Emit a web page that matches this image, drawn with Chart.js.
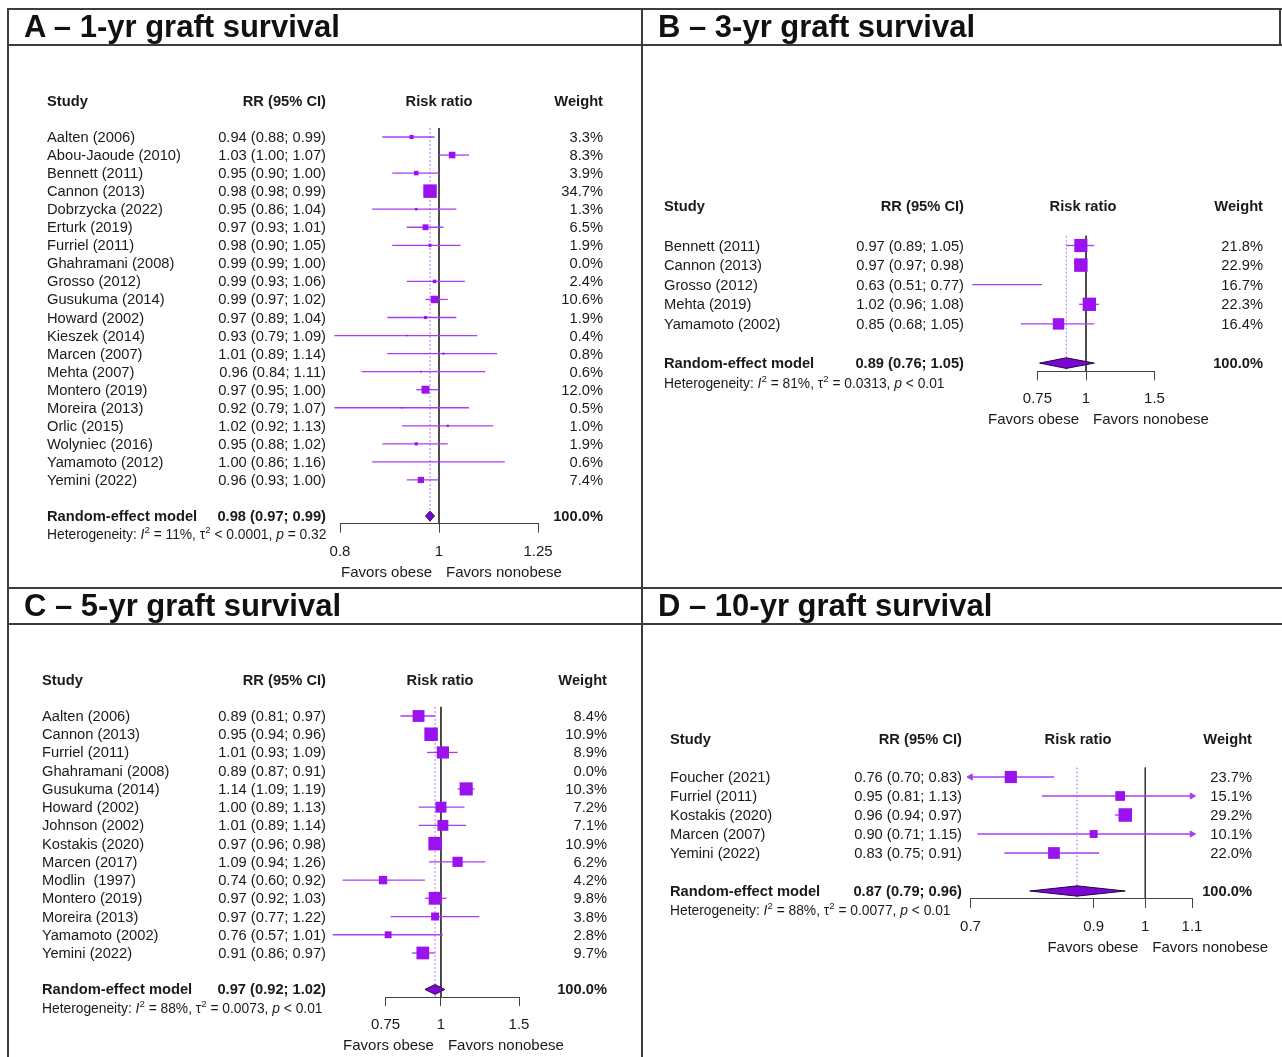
<!DOCTYPE html>
<html>
<head>
<meta charset="utf-8">
<title>Graft survival forest plots</title>
<script src="https://cdn.jsdelivr.net/npm/chart.js@4.4.1/dist/chart.umd.min.js"></script>
<style>
  html, body { margin: 0; padding: 0; background: #fff; }
  body { width: 1282px; height: 1057px; position: relative; overflow: hidden;
         font-family: 'Liberation Sans', Arial, Helvetica, sans-serif; color: #1a1a1a; }
  .panel { position: absolute; }
  .panel canvas { position: absolute; left: 0; top: 0; }
  .title { position: absolute; left: 16px; top: 0; height: 36px; line-height: 36px;
           font-size: 31px; font-weight: bold; color: #111; white-space: nowrap; }
  .lbl { position: absolute; white-space: pre; font-size: 14.7px; line-height: 17px; }
  .lbl.b { font-weight: bold; }
  .lbl.l { transform: translate(0, -50%); }
  .lbl.r { transform: translate(-100%, -50%); }
  .lbl.c { transform: translate(-50%, -50%); }
  .lbl.het { font-size: 13.8px; }
  .lbl.fav { font-size: 15px; }
  .het sup { font-size: 0.7em; vertical-align: 0.6em; line-height: 0; }
  .rule { position: absolute; background: #3c3c3c; }
</style>
</head>
<body>
<script>
// A - 1 year
const studiesA = ['Aalten (2006)', 'Abou-Jaoude (2010)', 'Bennett (2011)', 'Cannon (2013)', 'Dobrzycka (2022)',
  'Erturk (2019)', 'Furriel (2011)', 'Ghahramani (2008)', 'Grosso (2012)', 'Gusukuma (2014)', 'Howard (2002)',
  'Kieszek (2014)', 'Marcen (2007)', 'Mehta (2007)', 'Montero (2019)', 'Moreira (2013)', 'Orlic (2015)',
  'Wolyniec (2016)', 'Yamamoto (2012)', 'Yemini (2022)'];
const rrA = [0.94, 1.03, 0.95, 0.98, 0.95, 0.97, 0.98, 0.99, 0.99, 0.99, 0.97, 0.93, 1.01, 0.96, 0.97, 0.92, 1.02, 0.95, 1.00, 0.96];
const loA = [0.88, 1.00, 0.90, 0.98, 0.86, 0.93, 0.90, 0.99, 0.93, 0.97, 0.89, 0.79, 0.89, 0.84, 0.95, 0.79, 0.92, 0.88, 0.86, 0.93];
const hiA = [0.99, 1.07, 1.00, 0.99, 1.04, 1.01, 1.05, 1.00, 1.06, 1.02, 1.04, 1.09, 1.14, 1.11, 1.00, 1.07, 1.13, 1.02, 1.16, 1.00];
const weightA = [3.3, 8.3, 3.9, 34.7, 1.3, 6.5, 1.9, 0.0, 2.4, 10.6, 1.9, 0.4, 0.8, 0.6, 12.0, 0.5, 1.0, 1.9, 0.6, 7.4];
const pooledA = [0.98, 0.97, 0.99];
const hetA = ['11%', '< 0.0001', '= 0.32'];
const ticksA = [0.8, 1, 1.25];

// B - 3 year
const studiesB = ['Bennett (2011)', 'Cannon (2013)', 'Grosso (2012)', 'Mehta (2019)', 'Yamamoto (2002)'];
const rrB = [0.97, 0.97, 0.63, 1.02, 0.85];
const loB = [0.89, 0.97, 0.51, 0.96, 0.68];
const hiB = [1.05, 0.98, 0.77, 1.08, 1.05];
const weightB = [21.8, 22.9, 16.7, 22.3, 16.4];
const pooledB = [0.89, 0.76, 1.05];
const hetB = ['81%', '= 0.0313', '< 0.01'];
const ticksB = [0.75, 1, 1.5];

// C - 5 year
const studiesC = ['Aalten (2006)', 'Cannon (2013)', 'Furriel (2011)', 'Ghahramani (2008)', 'Gusukuma (2014)',
  'Howard (2002)', 'Johnson (2002)', 'Kostakis (2020)', 'Marcen (2017)', 'Modlin  (1997)', 'Montero (2019)',
  'Moreira (2013)', 'Yamamoto (2002)', 'Yemini (2022)'];
const rrC = [0.89, 0.95, 1.01, 0.89, 1.14, 1.00, 1.01, 0.97, 1.09, 0.74, 0.97, 0.97, 0.76, 0.91];
const loC = [0.81, 0.94, 0.93, 0.87, 1.09, 0.89, 0.89, 0.96, 0.94, 0.60, 0.92, 0.77, 0.57, 0.86];
const hiC = [0.97, 0.96, 1.09, 0.91, 1.19, 1.13, 1.14, 0.98, 1.26, 0.92, 1.03, 1.22, 1.01, 0.97];
const weightC = [8.4, 10.9, 8.9, 0.0, 10.3, 7.2, 7.1, 10.9, 6.2, 4.2, 9.8, 3.8, 2.8, 9.7];
const pooledC = [0.97, 0.92, 1.02];
const hetC = ['88%', '= 0.0073', '< 0.01'];
const ticksC = [0.75, 1, 1.5];

// D - 10 year
const studiesD = ['Foucher (2021)', 'Furriel (2011)', 'Kostakis (2020)', 'Marcen (2007)', 'Yemini (2022)'];
const rrD = [0.76, 0.95, 0.96, 0.90, 0.83];
const loD = [0.70, 0.81, 0.94, 0.71, 0.75];
const hiD = [0.83, 1.13, 0.97, 1.15, 0.91];
const weightD = [23.7, 15.1, 29.2, 10.1, 22.0];
const pooledD = [0.87, 0.79, 0.96];
const hetD = ['88%', '= 0.0077', '< 0.01'];
const ticksD = [0.7, 0.9, 1, 1.1];

const FONT = "'Liberation Sans', Arial, Helvetica, sans-serif";
const SQUARE = '#9a12ee';
const CI_LINE = '#a83cf2';
const DOTTED = '#b779f5';
const DIAMOND = '#7c06d4';
const AXIS = '#444';

// page geometry of each panel (page pixels)
const panels = [
  { title: 'A \u2013 1-yr graft survival', box: [8, 9, 634, 579],
    studies: studiesA, rr: rrA, lo: loA, hi: hiA, weight: weightA, pooled: pooledA, het: hetA, ticks: ticksA, arrows: false,
    pos: { plotLeft: 340, plotRight: 538, row0: 137, rowStep: 18.05, studyX: 47, rrRight: 326, wRight: 603, riskX: 439 } },
  { title: 'B \u2013 3-yr graft survival', box: [642, 9, 640, 579],
    studies: studiesB, rr: rrB, lo: loB, hi: hiB, weight: weightB, pooled: pooledB, het: hetB, ticks: ticksB, arrows: false,
    pos: { plotLeft: 1037.4, plotRight: 1154.5, row0: 245.5, rowStep: 19.6, studyX: 664, rrRight: 964, wRight: 1263, riskX: 1083 } },
  { title: 'C \u2013 5-yr graft survival', box: [8, 588, 634, 469],
    studies: studiesC, rr: rrC, lo: loC, hi: hiC, weight: weightC, pooled: pooledC, het: hetC, ticks: ticksC, arrows: false,
    pos: { plotLeft: 385.6, plotRight: 519, row0: 716, rowStep: 18.23, studyX: 42, rrRight: 326, wRight: 607, riskX: 440 } },
  { title: 'D \u2013 10-yr graft survival', box: [642, 588, 640, 469],
    studies: studiesD, rr: rrD, lo: loD, hi: hiD, weight: weightD, pooled: pooledD, het: hetD, ticks: ticksD, arrows: true,
    pos: { plotLeft: 970.5, plotRight: 1192, row0: 777, rowStep: 19.0, studyX: 670, rrRight: 962, wRight: 1252, riskX: 1078 } }
];

function esc(s) {
  return s.replace(/&/g, '&amp;').replace(/</g, '&lt;').replace(/>/g, '&gt;');
}

function ciText(e, l, h) {
  return e.toFixed(2) + ' (' + l.toFixed(2) + '; ' + h.toFixed(2) + ')';
}

function addLabel(parent, text, x, y, align, cls, html) {
  const d = document.createElement('div');
  d.className = 'lbl ' + align + (cls ? ' ' + cls : '');
  d.style.left = x + 'px';
  d.style.top = y + 'px';
  if (html) d.innerHTML = text; else d.textContent = text;
  parent.appendChild(d);
  return d;
}

function buildPanel(p) {
  const [bx, by, bw, bh] = p.box;
  const L = p.pos;

  const wrap = document.createElement('div');
  wrap.className = 'panel';
  wrap.style.left = bx + 'px';
  wrap.style.top = by + 'px';
  wrap.style.width = bw + 'px';
  wrap.style.height = bh + 'px';
  document.body.appendChild(wrap);

  const canvas = document.createElement('canvas');
  canvas.width = bw;
  canvas.height = bh;
  wrap.appendChild(canvas);

  const title = document.createElement('div');
  title.className = 'title';
  title.textContent = p.title;
  wrap.appendChild(title);

  const n = p.studies.length;
  const headRow = -2, pooledRow = n + 1, hetRow = n + 2;
  const topRow = -0.6, axisRow = pooledRow + 0.42;
  const AXIS_H = 44;
  const areaTop = L.row0 + topRow * L.rowStep - by;
  const areaBottom = L.row0 + axisRow * L.rowStep - by;

  const xmin = p.ticks[0], xmax = p.ticks[p.ticks.length - 1];
  const idx = p.studies.map((s, i) => i).filter(i => p.weight[i] > 0);
  const wMax = Math.max(...p.weight);
  const side = w => 13.5 * Math.sqrt(w / wMax);

  const lo = i => (p.arrows ? Math.max(p.lo[i], xmin) : p.lo[i]);
  const hi = i => (p.arrows ? Math.min(p.hi[i], xmax) : p.hi[i]);
  const arrowPts = [], arrowRot = [];
  if (p.arrows) {
    idx.forEach(i => {
      if (p.lo[i] <= xmin) { arrowPts.push({ x: xmin, y: i }); arrowRot.push(-90); }
      if (p.hi[i] >= xmax) { arrowPts.push({ x: xmax, y: i }); arrowRot.push(90); }
    });
  }

  const [est, plo, phi] = p.pooled;
  const dh = 0.27;
  const diamond = [
    { x: plo, y: pooledRow }, { x: est, y: pooledRow - dh }, { x: phi, y: pooledRow },
    { x: est, y: pooledRow + dh }, { x: plo, y: pooledRow }
  ];

  const chart = new Chart(canvas, {
    type: 'scatter',
    data: {
      datasets: [
        { // confidence intervals
          type: 'bar', indexAxis: 'y',
          data: idx.map(i => ({ y: i, x: [lo(i), hi(i)] })),
          backgroundColor: CI_LINE, borderWidth: 0, barThickness: 1.3, inflateAmount: 0,
          clip: false, order: 3
        },
        { // study squares
          data: idx.map(i => ({ x: p.rr[i], y: i })),
          pointStyle: 'rect',
          pointRadius: idx.map(i => side(p.weight[i]) / Math.SQRT2),
          backgroundColor: SQUARE, borderWidth: 0, clip: false, order: 1
        },
        { // arrows where CI leaves the axis
          data: arrowPts, pointStyle: 'triangle', pointRotation: arrowRot, pointRadius: 3.5,
          backgroundColor: CI_LINE, borderColor: CI_LINE, borderWidth: 1, clip: false, order: 2
        },
        { // pooled diamond
          data: diamond, showLine: true, fill: 'shape', tension: 0,
          backgroundColor: DIAMOND, borderColor: '#24083f', borderWidth: 1, pointRadius: 0, order: 0
        },
        { // line of no effect
          data: [{ x: 1, y: -0.5 }, { x: 1, y: axisRow }], showLine: true,
          borderColor: '#333', borderWidth: 1, pointRadius: 0, order: 5
        },
        { // pooled estimate
          data: [{ x: est, y: -0.5 }, { x: est, y: axisRow }], showLine: true,
          borderColor: DOTTED, borderWidth: 1, borderDash: [2, 2], pointRadius: 0, order: 4
        }
      ]
    },
    options: {
      responsive: false,
      animation: false,
      events: [],
      layout: {
        padding: { left: L.plotLeft - bx, right: bx + bw - L.plotRight, top: areaTop, bottom: bh - areaBottom - AXIS_H }
      },
      plugins: { legend: { display: false }, tooltip: { enabled: false } },
      scales: {
        x: {
          type: 'logarithmic', min: xmin, max: xmax, offset: false, beginAtZero: false,
          afterBuildTicks: s => { s.ticks = p.ticks.map(v => ({ value: v })); },
          afterFit: s => { s.height = AXIS_H; },
          border: { display: true, color: AXIS, width: 1 },
          grid: { drawOnChartArea: false, drawTicks: true, tickLength: 9, color: AXIS, lineWidth: 1 },
          ticks: { autoSkip: false, maxRotation: 0, padding: 10, color: '#1a1a1a',
                   font: { family: FONT, size: 15 }, callback: v => String(v) }
        },
        y: { type: 'linear', reverse: true, min: topRow, max: axisRow, bounds: 'data', offset: false, display: false }
      }
    }
  });

  const ys = chart.scales.y, xs = chart.scales.x;
  const yOf = r => ys.getPixelForValue(r);
  const sx = L.studyX - bx, rx = L.rrRight - bx, wx = L.wRight - bx;

  addLabel(wrap, 'Study', sx, yOf(headRow), 'l', 'b');
  addLabel(wrap, 'RR (95% CI)', rx, yOf(headRow), 'r', 'b');
  addLabel(wrap, 'Risk ratio', L.riskX - bx, yOf(headRow), 'c', 'b');
  addLabel(wrap, 'Weight', wx, yOf(headRow), 'r', 'b');

  p.studies.forEach((s, i) => {
    addLabel(wrap, s, sx, yOf(i), 'l');
    addLabel(wrap, ciText(p.rr[i], p.lo[i], p.hi[i]), rx, yOf(i), 'r');
    addLabel(wrap, p.weight[i].toFixed(1) + '%', wx, yOf(i), 'r');
  });

  addLabel(wrap, 'Random-effect model', sx, yOf(pooledRow), 'l', 'b');
  addLabel(wrap, ciText(est, plo, phi), rx, yOf(pooledRow), 'r', 'b');
  addLabel(wrap, '100.0%', wx, yOf(pooledRow), 'r', 'b');

  const het = 'Heterogeneity: <i>I</i><sup>2</sup> = ' + esc(p.het[0]) + ', \u03c4<sup>2</sup> ' + esc(p.het[1]) +
              ', <i>p</i> ' + esc(p.het[2]);
  addLabel(wrap, het, sx, yOf(hetRow), 'l', 'het', true);

  const one = xs.getPixelForValue(1);
  const favY = chart.chartArea.bottom + 47;
  addLabel(wrap, 'Favors obese', one - 7, favY, 'r', 'fav');
  addLabel(wrap, 'Favors nonobese', one + 7, favY, 'l', 'fav');
}

panels.forEach(buildPanel);

// frame lines
[
  [7, 8, 1275, 2], [7, 8, 2, 1049], [641, 8, 2, 1049], [7, 44, 1275, 2],
  [7, 587, 1275, 2], [7, 623, 1275, 2], [1279, 8, 2, 38]
].forEach(([l, t, w, h]) => {
  const d = document.createElement('div');
  d.className = 'rule';
  d.style.left = l + 'px'; d.style.top = t + 'px';
  d.style.width = w + 'px'; d.style.height = h + 'px';
  document.body.appendChild(d);
});
</script>
</body>
</html>
